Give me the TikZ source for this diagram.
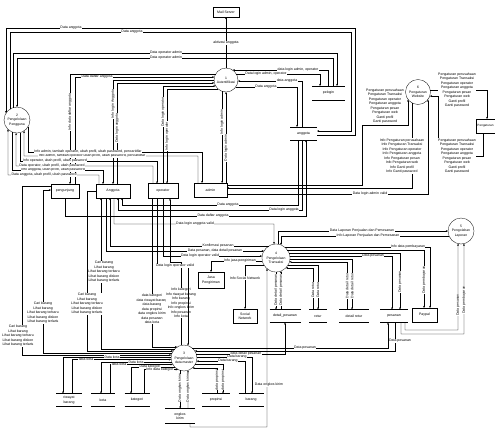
\documentclass[tikz,border=0pt]{standalone}
\usepackage{fontspec}
\setmainfont{Liberation Sans}
\usetikzlibrary{arrows.meta}

\begin{document}
\begin{tikzpicture}[x=1pt, y=-1pt, line width=0.3pt,
    >={Stealth[length=2.2pt,width=1.8pt]},
    font=\fontsize{3.5}{4.5}\selectfont,
    proses/.style={draw, circle, minimum size=#1, inner sep=0pt, outer sep=0pt, align=center, font=\fontsize{3.4}{4.2}\selectfont},
    entitas/.style={draw, rectangle, inner sep=0pt, outer sep=0pt, align=center},
    simpan/.style={inner sep=0pt, outer sep=0pt, align=center},
    lbl/.style={fill=white, inner sep=0.4pt, align=center},
    vlbl/.style={lbl, rotate=90}]
    \useasboundingbox (0,0) rectangle (495,429);
    \clip (0,0) rectangle (495,429);

    % Proses
    \node[proses=24pt] (p1) at (226,80) {1\\Autentifikasi};
    \node[proses=26pt] (p2) at (17,120) {2\\Pengelolaan\\Pengguna};
    \node[proses=26pt] (p3) at (184,358) {3\\Pengelolaan\\data master};
    \node[proses=28pt] (p4) at (276,258) {4\\Pengelolaan\\Transaksi};
    \node[proses=26pt] (p5) at (461,231) {5\\Pengolahan\\Laporan};
    \node[proses=25pt] (p6) at (418,92) {6\\Pengaturan\\Website};

    % Entitas luar
    \node[entitas, minimum width=26pt, minimum height=10pt] (mail) at (226,12) {Mail Server};
    \node[entitas, minimum width=28pt, minimum height=14pt] (pgj) at (65,191) {pengunjung};
    \node[entitas, minimum width=34pt, minimum height=14pt] (agt) at (113,191) {Anggota};
    \node[entitas, minimum width=30pt, minimum height=15pt] (opr) at (163,191) {operator};
    \node[entitas, minimum width=33pt, minimum height=14pt] (adm) at (210.5,190) {admin};
    \node[entitas, minimum width=26pt, minimum height=16pt] (jasa) at (211,280) {Jasa\\Pengiriman};
    \node[entitas, minimum width=24pt, minimum height=14pt] (sosmed) at (245,316) {Social\\Network};
    \node[entitas, minimum width=25pt, minimum height=14pt] (paypal) at (424.5,315) {Paypal};
    \node[entitas, minimum width=18.5pt, minimum height=14pt, font=\fontsize{3.1}{4}\selectfont] (pgtr) at (485.5,126) {Pengaturan};

    % Penyimpanan data
    \node[simpan, minimum width=33pt, minimum height=14pt] (pelogin) at (328.5,93) {pelogin};
    \node[simpan, minimum width=27pt, minimum height=13pt] (sagt) at (303.5,133.5) {anggota};
    \node[simpan, minimum width=31pt, minimum height=13pt] (dtp) at (285,316) {detail\_pesanan};
    \node[simpan, minimum width=18pt, minimum height=13pt] (retur) at (318,316) {retur};
    \node[simpan, minimum width=30pt, minimum height=13pt] (dretur) at (354,316) {detail retur};
    \node[simpan, minimum width=28pt, minimum height=13pt] (psn) at (394,316) {pesanan};
    \node[simpan, minimum width=26pt, minimum height=13pt] (rwy) at (69,400) {riwayat\\barang};
    \node[simpan, minimum width=24pt, minimum height=13pt] (kota) at (103,400) {kota};
    \node[simpan, minimum width=25pt, minimum height=13pt] (ktg) at (137,400) {kategori};
    \node[simpan, minimum width=28pt, minimum height=13pt] (prop) at (216,400) {propinsi};
    \node[simpan, minimum width=25pt, minimum height=13pt] (brg) at (251,400) {barang};
    \node[simpan, minimum width=30pt, minimum height=15pt] (ongkos) at (180,416) {ongkos\\kirim};
    \foreach \s in {pelogin,sagt,dtp,retur,dretur,psn,rwy,kota,ktg,prop,brg,ongkos}
        \draw (\s.north west) -- (\s.north east) (\s.south west) -- (\s.south east);

    % Aliran data - Autentifikasi
    \draw[->] (p1.north) -- (mail.south) node[lbl] at (226,43) {aktivasi anggota};
    \draw[->] (p1.150) -| (pgj.north -| 70,0) node[vlbl] at (70,112) {Info data daftar anggota};
    \draw[->] (pgj.north -| 75,0) |- (p1.166) node[lbl] at (97,77) {Data daftar anggota};
    \draw[->] (p1.180) -| (agt.north -| 113,0) node[vlbl] at (113,104) {Info login Anggota};
    \draw[->] (agt.north -| 117,0) |- (p1.194) node[vlbl] at (117,128) {Data login anggota};
    \draw[->] (opr.north -| 163,0) |- (p1.210) node[vlbl] at (163,112) {Data login operator};
    \draw[->] (p1.229) -| (opr.north -| 167,0) node[vlbl] at (167,136) {Info login operator};
    \draw[->] (p1.251) -- (p1.251 |- adm.north) node[vlbl] at (222,122) {Info login admin};
    \draw[->] (adm.north -| 226,0) -- (p1.south) node[vlbl] at (226,148) {Data login admin};
    \draw[->] (pelogin.north -| 328,0) |- (p1.56) node[lbl] at (298,70) {data login admin, operator};
    \draw[->] (p1.30) -| (pelogin.north -| 320,0) node[lbl] at (266,74) {Data login admin, operator};
    \draw[->] (sagt.north -| 302,0) |- (p1.355) node[lbl] at (287,81) {data anggota};
    \draw[->] (p1.324) -| (sagt.north -| 297,0) node[lbl] at (266,87) {Data anggota};

    % Aliran data - Pengelolaan Pengguna
    \draw[->] (sagt.east |- 0,135) -| (355,28) -| (p2.148) node[lbl] at (71,28) {Data anggota};
    \draw[->] (p2.123) |- (351,32) |- (sagt.east |- 0,131) node[lbl] at (132,32) {Data anggota};
    \draw[->] (p2.108) |- (337,53) -- (pelogin.north -| 337,0) node[lbl] at (166,53) {Data operator admin};
    \draw[->] (pelogin.north -| 333,0) -- (333,58) -| (p2.north) node[lbl] at (166,58) {Data operator admin};
    \draw[->] (agt.north -| 99,0) |- (8,175) -- (p2.226) node[lbl] at (44,175) {Data anggota, ubah profil, ubah password};
    \draw[->] (p2.247) |- (103,170) -- (agt.north -| 103,0) node[lbl] at (53,170) {Info anggota, ubah profil, ubah password};
    \draw[->] (opr.north -| 153,0) |- (16,166) -- (p2.266) node[lbl] at (52,166) {Data operator, ubah profil, ubah password};
    \draw[->] (p2.283) |- (157,161) -- (opr.north -| 157,0) node[lbl] at (55,161) {Info operator, ubah profil, ubah password};
    \draw[->] (adm.north -| 198,0) |- (24,156) -- (p2.303) node[lbl] at (92,156) {Info admin, tambah operator ubah profil, ubah password, pencaridfar};
    \draw[->] (p2.328) |- (202,152) -- (adm.north -| 202,0) node[lbl] at (88,152) {Info admin, tambah operator, ubah profil, ubah password, pencaridfar};

    % Aliran data - anggota
    \draw[->] (sagt.south -| 298,0) |- (122,205) -- (agt.south -| 122,0) node[lbl] at (228,205) {Data anggota};
    \draw[->] (sagt.south -| 302,0) |- (118,210) -- (agt.south -| 118,0) node[lbl] at (284,210) {Data login anggota};
    \draw[->] (pgj.south) |- (306,216) -- (sagt.south -| 306,0) node[lbl] at (213,216) {Data daftar anggota};

    % Aliran data - Pengaturan Website
    \draw[->] (adm.east |- 0,185) -| (362,125) -| (p6.217) node[lbl] at (385,106) {Pengaturan perusahaan\\Pengaturan Transaksi\\Pengaturan operator\\Pengaturan anggota\\Pengaturan pesan\\Pengaturan web\\Ganti profil\\Ganti password};
    \draw[->] (p6.241) |- (adm.east |- 0,188) node[lbl] at (402,156) {Info Pengaturan perusahaan\\Info Pengaturan Transaksi\\Info Pengaturan operator\\Info Pengaturan anggota\\Info Pengaturan pesan\\Info Pengaturan web\\Info Ganti profil\\Info Ganti password};
    \draw[->] (adm.east |- 0,194) -| (p6.323) node[lbl] at (370,194) {Data login admin valid};
    \draw[->] (p6.9) -| (pgtr.north -| 487,0) node[lbl] at (457,90) {Pengaturan perusahaan\\Pengaturan Transaksi\\Pengaturan operator\\Pengaturan anggota\\Pengaturan pesan\\Pengaturan web\\Ganti profil\\Ganti password};
    \draw[->] (pgtr.south -| 483,0) |- (438,156) |- (p6.341) node[lbl] at (457,156) {Pengaturan perusahaan\\Pengaturan Transaksi\\Pengaturan operator\\Pengaturan anggota\\Pengaturan pesan\\Pengaturan web\\Ganti profil\\Ganti password};

    % Aliran data - Pengelolaan Transaksi
    \draw[->] (agt.south -| 114,0) |- (274,224) -- (p4.98) node[lbl] at (195,224) {Data login anggota valid};
    \draw[->] (p4.82) |- (p5.west) node[lbl] at (362,231) {Data Laporan Penjualan dan Pemesanan};
    \draw[->] (p5.203) -| (p4.69) node[lbl] at (368,236) {Info Laporan Penjualan dan Pemesanan};
    \draw[->] (p4.121) -| (agt.south -| 110,0) node[lbl] at (218,246) {Konfirmasi pesanan};
    \draw[->] (agt.south -| 106,0) |- (p4.150) node[lbl] at (215,251) {Data pesanan, data detail pesanan};
    \draw[->] (opr.south -| 163,0) |- (p4.172) node[lbl] at (200,256) {Data login operator valid};
    \draw[->] (p4.192) -| (jasa.north) node[lbl] at (240,261) {Info jasa pengiriman};
    \draw[->] (p4.210) -| (sosmed.north) node[lbl] at (245,278) {Info Social Network};
    \draw[->] (p4.52) -| (paypal.north -| 430,0) node[lbl] at (408,247) {Info data pembayaran};
    \draw[->] (p4.35) -| (paypal.north -| 424,0) node[vlbl] at (424,280) {Data pembayaran};
    \draw[->] (p4.21) -| (psn.north -| 400,0) node[vlbl] at (400,282) {Data pesanan};
    \draw[->] (p4.8) -| (psn.north -| 392,0) node[lbl] at (373,256) {Data pesanan};
    \draw[->] (p4.356) -| (dretur.north -| 352,0) node[vlbl] at (352,286) {Data detail retur};
    \draw[<-] (p4.344) -| (dretur.north -| 347,0) node[vlbl] at (347,286) {Data detail retur};
    \draw[->] (p4.330) -| (retur.north -| 318,0) node[vlbl] at (318,290) {Data retur};
    \draw[<-] (p4.315) -| (retur.north -| 313,0) node[vlbl] at (313,290) {Data retur};
    \draw[->] (p4.south) -- (dtp.north -| 276,0) node[vlbl] at (276,290) {Data detail pesanan};
    \draw[<-] (p4.291) -- (p4.291 |- dtp.north) node[vlbl] at (281,290) {Data detail pesanan};
    \draw[->] (ongkos.south -| 190,0) |- (267,427) -- (p4.230) node[lbl] at (269,385) {Data ongkos kirim};

    % Aliran data - Pengolahan Laporan
    \draw[->] (psn.south -| 405,0) |- (458,330) -- (p5.257) node[vlbl] at (458,305) {Data pesanan};
    \draw[->] (psn.south -| 401,0) |- (464,334) -- (p5.283) node[vlbl] at (464,300) {Data pembayaran};

    % Aliran data - Pengelolaan data master
    \draw[->] (opr.south -| 152,0) |- (p3.122) node[lbl] at (152,309) {data kategori\\data riwayat barang\\data barang\\data propinsi\\data ongkos kirim\\data pesanan\\data kota};
    \draw[->] (p3.103) |- (170,262) -- (opr.south -| 170,0) node[lbl] at (181,303) {Info kategori\\Info riwayat barang\\Info barang\\Info propinsi\\Info ongkos kirim\\Info pesanan\\Info kota};
    \draw[->] (opr.south -| 157,0) |- (p3.72 |- 0,266) -- (p3.72) node[lbl] at (175,266) {Data login operator valid};
    \draw[->] (p3.136) -| (agt.south -| 101,0) node[lbl] at (104,272) {Cari barang\\Lihat barang\\Lihat barang terbaru\\Lihat barang diskon\\Lihat barang terlaris};
    \draw[->] (agt.west) -| (p3.147 -| 87,0) -- (p3.147) node[lbl] at (87,304) {Cari barang\\Lihat barang\\Lihat barang terbaru\\Lihat barang diskon\\Lihat barang terlaris};
    \draw[<-] (pgj.west |- 0,190) -| (p3.157 -| 43,0) -- (p3.157) node[lbl] at (43,313) {Cari barang\\Lihat barang\\Lihat barang terbaru\\Lihat barang diskon\\Lihat barang terlaris};
    \draw[->] (pgj.west |- 0,186) -| (p3.167 -| 22,0) -- (p3.167) node[lbl] at (18,336) {Cari barang\\Lihat barang\\Lihat barang terbaru\\Lihat barang diskon\\Lihat barang terlaris};
    \draw[->] (p3.176) -| (rwy.north -| 63,0) node[lbl] at (112,357) {Data kota};
    \draw[->] (rwy.north -| 72,0) |- (p3.187) node[lbl] at (86,359.5) {data kota};
    \draw[->] (p3.198) -| (kota.north -| 101,0) node[lbl] at (136,362) {Data kota};
    \draw[->] (kota.north -| 110,0) |- (p3.210) node[lbl] at (119,364.5) {data kota};
    \draw[->] (p3.224) -| (ktg.north -| 131,0) node[lbl] at (150,367) {Data kategori};
    \draw[->] (ktg.north -| 144,0) |- (p3.242) node[lbl] at (160,370) {Info data kategori};
    \draw[->] (p3.253) -- (p3.253 |- ongkos.north) node[vlbl] at (180,388) {Data ongkos kirim};
    \draw[->] (ongkos.north -| 188,0) -- (p3.288) node[vlbl] at (188,388) {Data ongkos kirim};
    \draw[->] (p3.50) -| (psn.south -| 388,0) node[lbl] at (305,348) {Data pesanan};
    \draw[->] (psn.south -| 395,0) |- (p3.33) node[lbl] at (400,341) {Data pesanan};
    \draw[->] (p3.18) -| (dtp.south) node[lbl] at (246,354) {data detail pesanan};
    \draw[->] (p3.4) -| (brg.north -| 252,0) node[lbl] at (237,357) {Data barang};
    \draw[->] (brg.north -| 245,0) |- (p3.346) node[lbl] at (228,361) {Data barang};
    \draw[->] (p3.330) -| (prop.north -| 223,0) node[vlbl] at (223,380) {data propinsi};
    \draw[->] (prop.north -| 217,0) |- (p3.310) node[vlbl] at (217,380) {data propinsi};
\end{tikzpicture}
\end{document}
